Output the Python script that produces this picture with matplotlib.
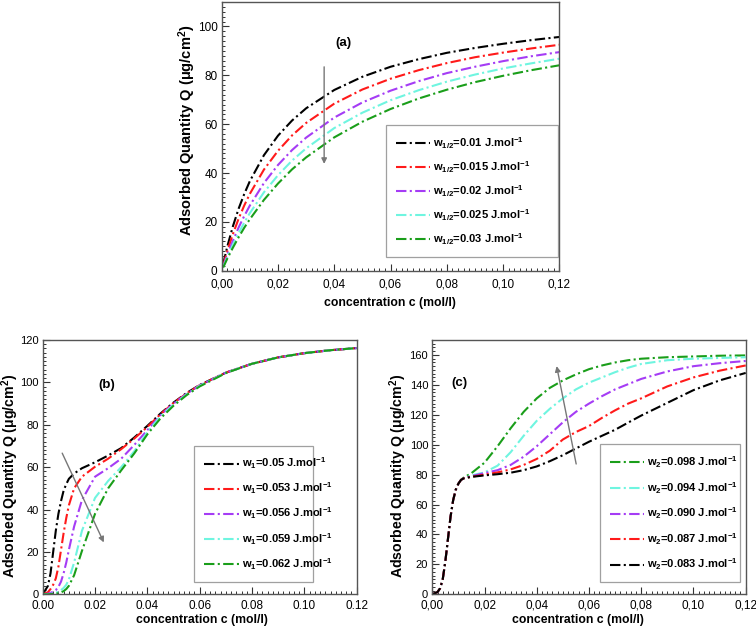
import matplotlib
matplotlib.use("Agg")
import matplotlib.pyplot as plt
from matplotlib.ticker import MultipleLocator, FuncFormatter

plt.rcParams['font.family'] = ['Liberation Sans', 'DejaVu Sans']
plt.rcParams['mathtext.fontset'] = 'custom'
plt.rcParams['mathtext.rm'] = 'Liberation Sans'
plt.rcParams['mathtext.bf'] = 'Liberation Sans:bold'
plt.rcParams['mathtext.it'] = 'Liberation Sans:italic'

# ---------------- data panel (a) ----------------
c_a = [0.0005, 0.002, 0.004, 0.006, 0.008, 0.010, 0.015, 0.020, 0.025, 0.030,
       0.040, 0.050, 0.060, 0.070, 0.080, 0.090, 0.100, 0.110, 0.120]
labels_a = ["0.01", "0.015", "0.02", "0.025", "0.03"]
q_a_001 = [2.7, 10.0, 18.3, 25.4, 31.4, 36.7, 47.3, 55.3, 61.5, 66.5,
           74.0, 79.4, 83.5, 86.6, 89.2, 91.2, 92.9, 94.4, 95.7]
q_a_0015 = [2.1, 8.1, 15.1, 21.3, 26.7, 31.5, 41.4, 49.1, 55.4, 60.5,
            68.4, 74.2, 78.6, 82.1, 85.0, 87.4, 89.3, 91.0, 92.5]
q_a_002 = [1.7, 6.6, 12.4, 17.7, 22.4, 26.7, 35.9, 43.3, 49.4, 54.5,
           62.7, 68.9, 73.7, 77.6, 80.9, 83.5, 85.8, 87.8, 89.5]
q_a_0025 = [1.5, 5.6, 10.8, 15.4, 19.7, 23.6, 32.1, 39.1, 45.1, 50.1,
            58.4, 64.7, 69.8, 73.9, 77.4, 80.3, 82.8, 84.9, 86.8]
q_a_003 = [1.3, 5.0, 9.5, 13.7, 17.6, 21.1, 29.0, 35.7, 41.5, 46.4,
           54.6, 61.0, 66.2, 70.5, 74.1, 77.2, 79.8, 82.1, 84.1]

# ---------------- data panel (b) ----------------
c_b = [0.0, 0.002, 0.003, 0.004, 0.005, 0.006, 0.007, 0.008, 0.009, 0.010,
       0.012, 0.015, 0.020, 0.025, 0.030, 0.035, 0.040, 0.045, 0.050, 0.055,
       0.060, 0.070, 0.080, 0.090, 0.100, 0.110, 0.120]
labels_b = ["0.05", "0.053", "0.056", "0.059", "0.062"]
q_b_005 = [0, 4, 10, 20, 30, 38, 44, 49, 52, 54.5,
           57, 59.5, 62.3, 65.5, 69, 74, 79.5, 85.3, 90.5, 95,
           98.8, 104.6, 108.8, 111.8, 113.8, 115.2, 116.2]
q_b_0053 = [0, 1, 2.5, 4.5, 7.5, 13, 21, 29, 36, 42,
            50, 55.5, 60.2, 64, 68.5, 73.5, 79, 85, 90.3, 94.8,
            98.7, 104.6, 108.8, 111.8, 113.8, 115.2, 116.2]
q_b_0056 = [0, 0.3, 0.7, 1.2, 2, 3.5, 6, 10, 15, 21,
            32, 44.5, 55.5, 59.5, 64, 70.5, 77.5, 84.5, 90, 94.6,
            98.6, 104.6, 108.8, 111.8, 113.8, 115.2, 116.2]
q_b_0059 = [0, 0.1, 0.2, 0.4, 0.7, 1.2, 2, 3, 4.5, 7,
            15, 30, 45.5, 53.5, 60, 67.5, 76.5, 84, 89.5, 94.3,
            98.4, 104.5, 108.8, 111.8, 113.8, 115.2, 116.2]
q_b_0062 = [0, 0, 0.1, 0.2, 0.3, 0.5, 0.9, 1.5, 2.5, 4,
            9, 20.5, 38, 50, 58.5, 66.5, 75.5, 83, 89, 94,
            98.1, 104.4, 108.8, 111.8, 113.8, 115.2, 116.2]

# ---------------- data panel (c) ----------------
c_c = [0.0, 0.002, 0.003, 0.004, 0.005, 0.006, 0.007, 0.008, 0.009, 0.010,
       0.011, 0.012, 0.015, 0.020, 0.025, 0.030, 0.035, 0.040, 0.045, 0.050,
       0.055, 0.060, 0.065, 0.070, 0.075, 0.080, 0.090, 0.100, 0.110, 0.120]
labels_c = ["0.098", "0.094", "0.090", "0.087", "0.083"]
q_c_0098 = [0, 1.5, 4, 10, 22, 37, 52, 63, 70, 74,
            76.5, 78, 81, 88, 99, 111, 122, 131, 138, 143,
            147, 150.5, 153, 155, 156.5, 157.5, 158.5, 159, 159.5, 159.7]
q_c_0094 = [0, 1.5, 4, 10, 22, 37, 52, 63, 70, 74,
            76.5, 77.5, 79.5, 81.5, 86, 95, 106, 116, 124, 131,
            137, 141.5, 145, 148.5, 151.5, 154, 156.5, 157.5, 158, 158.5]
q_c_0090 = [0, 1.5, 4, 10, 22, 37, 52, 63, 70, 74,
            76.5, 77.5, 79, 81, 83, 86.5, 92, 99, 107, 115,
            122, 127.5, 132.5, 137, 140.5, 144, 149, 152.5, 154.5, 156]
q_c_0087 = [0, 1.5, 4, 10, 22, 37, 52, 63, 70, 74,
            76.5, 77.5, 78.6, 80, 81.5, 83.5, 86.5, 90.5, 96, 103.5,
            108.5, 112.5, 118, 123, 127.5, 131, 139, 145, 149.5, 153]
q_c_0083 = [0, 1.5, 4, 10, 22, 37, 52, 63, 70, 74,
            76.5, 77.5, 78.5, 79.5, 80.3, 81.3, 83, 85.5, 89, 93,
            97.5, 102, 106, 110, 114.8, 119.5, 128, 136.5, 143, 148]

BLACK = '#000000'
RED = '#ff1a1a'
PURPLE = '#a53cf5'
CYAN = '#6ff5e0'
GREEN = '#1a9e1a'

DASH = (0, (5, 1.6, 1.0, 1.6))
LW = 1.5
SPINE = '#555555'
YLABEL = r'Adsorbed Quantity Q ($\mathbf{\mu}$g/cm$^{\mathbf{2}}$)'

fig = plt.figure(figsize=(7.56, 6.34), dpi=100)
ax_a = fig.add_axes([0.2933, 0.573, 0.4466, 0.4238])
ax_b = fig.add_axes([0.0565, 0.0626, 0.4153, 0.4011])
ax_c = fig.add_axes([0.5718, 0.0626, 0.4146, 0.4011])

comma = FuncFormatter(lambda v, p: ("%.2f" % v).replace('.', ','))
intfmt = FuncFormatter(lambda v, p: "%d" % round(v))


def style(ax, ymax, ymajor, yminor, fmt, xlab_pos, ylab_pos, ysize, ytick,
          xpad):
    ax.set_xlim(0, 0.12)
    ax.set_ylim(0, ymax)
    ax.xaxis.set_major_locator(MultipleLocator(0.02))
    ax.xaxis.set_minor_locator(MultipleLocator(0.002))
    ax.yaxis.set_major_locator(MultipleLocator(ymajor))
    ax.yaxis.set_minor_locator(MultipleLocator(yminor))
    ax.xaxis.set_major_formatter(fmt)
    ax.yaxis.set_major_formatter(intfmt)
    ax.tick_params(which='both', direction='in', top=False, right=False,
                   color='#333333')
    ax.tick_params(axis='x', labelsize=8.5)
    ax.tick_params(axis='y', labelsize=ytick)
    ax.tick_params(which='major', length=5, width=0.8)
    ax.tick_params(axis='x', which='major', pad=xpad)
    ax.tick_params(axis='y', which='major', pad=3)
    ax.tick_params(which='minor', length=2.5, width=0.7)
    for s in ax.spines.values():
        s.set_color(SPINE)
        s.set_linewidth(1.0)
    ax.set_xlabel('concentration c (mol/l)', fontsize=8.8, fontweight='bold')
    ax.set_ylabel(YLABEL, fontsize=ysize, fontweight='bold')
    ax.xaxis.set_label_coords(*xlab_pos)
    ax.yaxis.set_label_coords(*ylab_pos)
    ax.xaxis.label.set_verticalalignment('center')
    ax.yaxis.label.set_verticalalignment('baseline')


def legend(ax, bbox, spacing):
    leg = ax.legend(loc='center', bbox_to_anchor=bbox, mode='expand',
                    prop={'weight': 'bold', 'size': 8},
                    frameon=True, fancybox=False, edgecolor='#888888',
                    handlelength=3.1, handletextpad=0.25, labelspacing=spacing,
                    borderaxespad=0, borderpad=0.9)
    leg.get_frame().set_linewidth(0.9)
    return leg


# panel (a)
series_a = [q_a_001, q_a_0015, q_a_002, q_a_0025, q_a_003]
cols_a = [BLACK, RED, PURPLE, CYAN, GREEN]
for q, col, lab in zip(series_a, cols_a, labels_a):
    ax_a.plot(c_a, q, color=col, lw=LW, linestyle=DASH,
              label=r'w$_{\mathbf{1/2}}$=' + lab + r' J.mol$^{\mathbf{-1}}$')
style(ax_a, 110, 20, 2, comma, (0.4985, -0.119), (-0.087, 0.524), 10.5, 8.5,
      5.5)
ax_a.text(0.36, 0.846, '(a)', transform=ax_a.transAxes, fontsize=9.5,
          fontweight='bold', ha='center', va='center')
ax_a.annotate('', xy=(0.0364, 42.6), xytext=(0.0364, 84.6),
              arrowprops=dict(arrowstyle='-|>', color='#777777', lw=1.0,
                              mutation_scale=8))
legend(ax_a, (0.486, 0.042, 0.509, 0.509), 0.75)

# panel (b)
series_b = [q_b_005, q_b_0053, q_b_0056, q_b_0059, q_b_0062]
cols_b = [BLACK, RED, PURPLE, CYAN, GREEN]
for q, col, lab in zip(series_b, cols_b, labels_b):
    ax_b.plot(c_b, q, color=col, lw=LW, linestyle=DASH,
              label=r'w$_{\mathbf{1}}$=' + lab + r' J.mol$^{\mathbf{-1}}$')
style(ax_b, 120, 20, 2, FuncFormatter(lambda v, p: "%.2f" % v),
      (0.506, -0.1), (-0.088, 0.465), 10.2, 8, 4)
ax_b.text(0.204, 0.823, '(b)', transform=ax_b.transAxes, fontsize=9.5,
          fontweight='bold', ha='center', va='center')
ax_b.annotate('', xy=(0.0238, 23.3), xytext=(0.0070, 67.8),
              arrowprops=dict(arrowstyle='-|>', color='#777777', lw=1.0,
                              mutation_scale=8))
legend(ax_b, (0.483, 0.063, 0.379, 0.508), 0.85)

# panel (c)
series_c = [q_c_0098, q_c_0094, q_c_0090, q_c_0087, q_c_0083]
cols_c = [GREEN, CYAN, PURPLE, RED, BLACK]
for q, col, lab in zip(series_c, cols_c, labels_c):
    ax_c.plot(c_c, q, color=col, lw=LW, linestyle=DASH,
              label=r'w$_{\mathbf{2}}$=' + lab + r' J.mol$^{\mathbf{-1}}$')
style(ax_c, 170, 20, 2.5, comma, (0.466, -0.1), (-0.093, 0.466), 10.2, 8, 4)
ax_c.text(0.062, 0.83, '(c)', transform=ax_c.transAxes, fontsize=9.5,
          fontweight='bold', ha='left', va='center')
ax_c.annotate('', xy=(0.0474, 154.4), xytext=(0.0553, 85.3),
              arrowprops=dict(arrowstyle='-|>', color='#777777', lw=1.0,
                              mutation_scale=8))
legend(ax_c, (0.535, 0.053, 0.447, 0.530), 0.9)

fig.savefig('out.png', dpi=100)
